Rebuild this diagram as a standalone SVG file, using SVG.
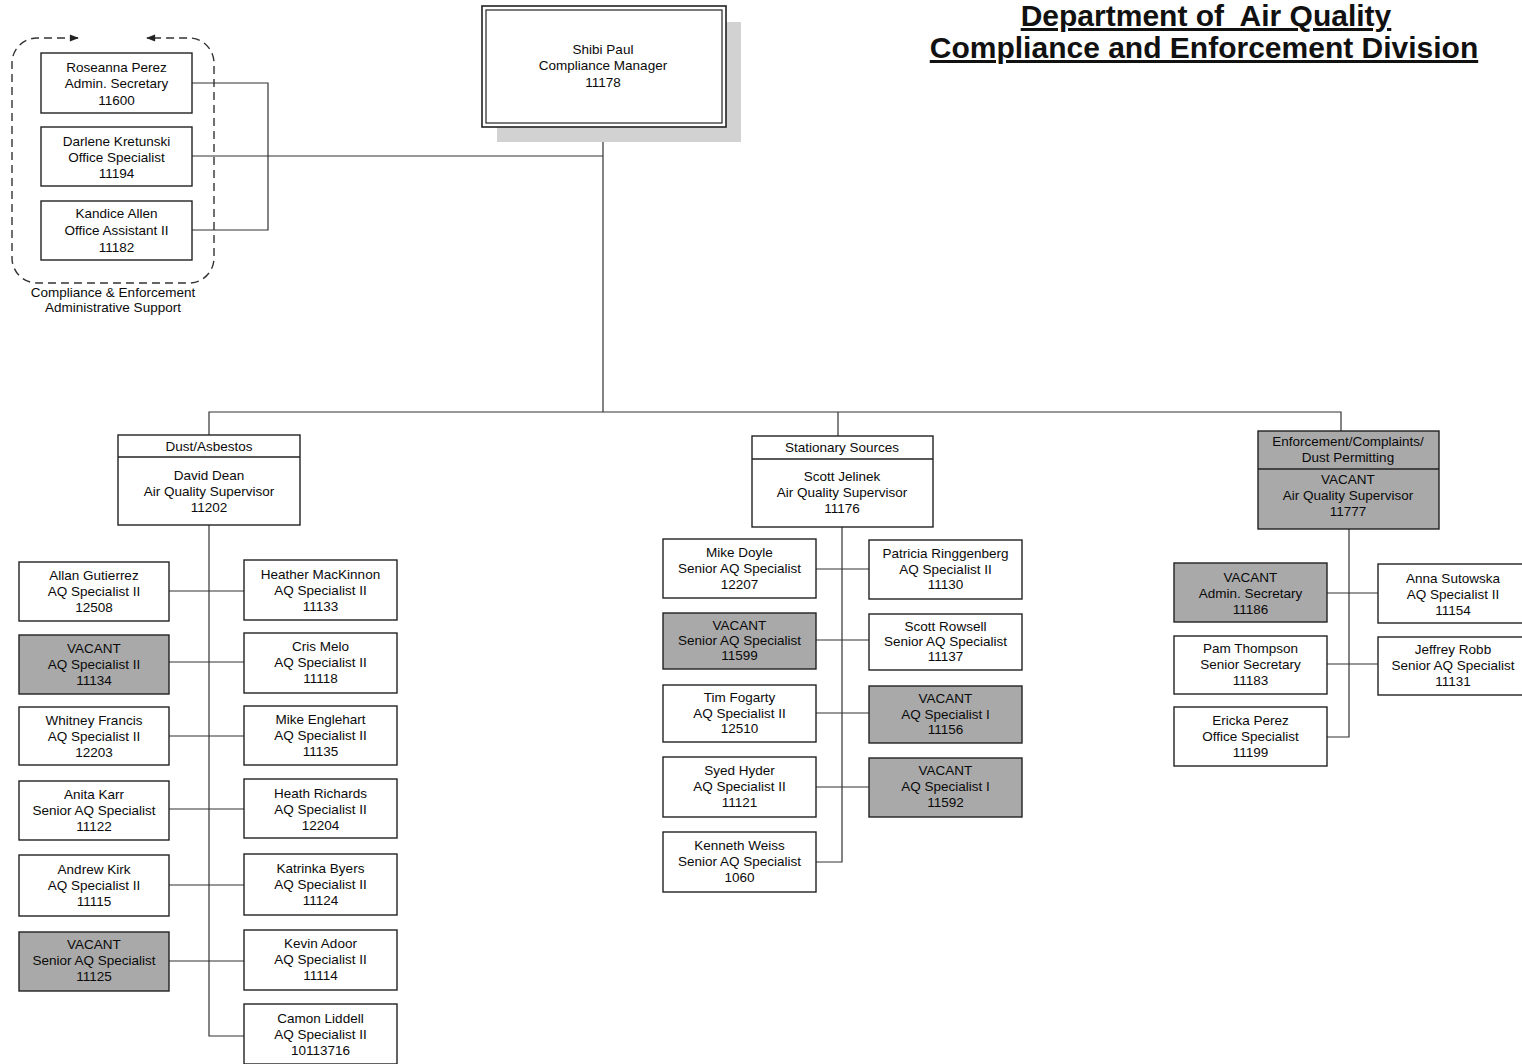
<svg xmlns="http://www.w3.org/2000/svg" width="1522" height="1064" viewBox="0 0 1522 1064">
<defs>
<style>
.box{fill:#fff;stroke:#222;stroke-width:1.4}
.vac{fill:#a9a9a9;stroke:#222;stroke-width:1.4}
.t{font-family:"Liberation Sans",Arial,sans-serif;font-size:13.5px;text-anchor:middle;fill:#0a0a0a}
.c{stroke:#333;stroke-width:1.2;fill:none}
.title{font-family:"Liberation Sans",Arial,sans-serif;font-size:30px;font-weight:bold;text-anchor:middle;fill:#111;text-decoration:underline;white-space:pre}
.dash{fill:none;stroke:#333;stroke-width:1.4;stroke-dasharray:8 5}
</style>
<marker id="ah" viewBox="0 0 10 10" refX="9" refY="5" markerWidth="10" markerHeight="9" markerUnits="userSpaceOnUse" orient="auto-start-reverse">
<path d="M0,1 L10,5 L0,9 Z" fill="#222"/>
</marker>
</defs>
<rect width="1522" height="1064" fill="#fff"/>

<text class="title" x="1206" y="26" xml:space="preserve">Department of  Air Quality</text>
<text class="title" x="1204" y="58">Compliance and Enforcement Division</text>

<g id="connectors">
<path class="c" d="M192,83 H268 V230 H192 M192,156 H603"/>
<path class="c" d="M603,127 V412 M209,435 V412 H1341 V431 M838,412 V436"/>
<path class="c" d="M209,525 V1036 H244 M169,591 H244 M169,662 H244 M169,736 H244 M169,809 H244 M169,885 H244 M169,961 H244"/>
<path class="c" d="M842,527 V862 H816 M816,569 H869 M816,640 H869 M816,713 H869 M816,787 H869"/>
<path class="c" d="M1349,529 V737 H1327 M1327,593 H1378 M1327,664 H1378"/>
</g>

<g id="admin-support">
<path class="dash" d="M78,38 H37 A25,25 0 0 0 12,63 V258 A25,25 0 0 0 37,283 H189 A25,25 0 0 0 214,258 V63 A25,25 0 0 0 189,38 H147" marker-start="url(#ah)" marker-end="url(#ah)"/>
<text class="t" x="113" y="296.5">Compliance &amp; Enforcement</text>
<text class="t" x="113" y="311.5">Administrative Support</text>
</g>

<g id="n-roseanna"><rect class="box" x="41" y="53" width="151" height="60"/><text class="t" x="116.5" y="71.5">Roseanna Perez<tspan x="116.5" dy="16">Admin. Secretary</tspan><tspan x="116.5" dy="17">11600</tspan></text></g>
<g id="n-darlene"><rect class="box" x="41" y="127" width="151" height="59"/><text class="t" x="116.5" y="145.5">Darlene Kretunski<tspan x="116.5" dy="16">Office Specialist</tspan><tspan x="116.5" dy="16">11194</tspan></text></g>
<g id="n-kandice"><rect class="box" x="41" y="201" width="151" height="59"/><text class="t" x="116.5" y="217.5">Kandice Allen<tspan x="116.5" dy="17">Office Assistant II</tspan><tspan x="116.5" dy="17">11182</tspan></text></g>

<g id="n-manager">
<rect x="497" y="22" width="244" height="120" fill="#d2d2d2"/>
<rect x="482" y="6" width="244" height="121" fill="#fff" stroke="#222" stroke-width="1.6"/>
<rect x="486" y="10" width="236" height="113" fill="none" stroke="#222" stroke-width="1.2"/>
<text class="t" x="603" y="53.5">Shibi Paul<tspan x="603" dy="16.5">Compliance Manager</tspan><tspan x="603" dy="16.5">11178</tspan></text>
</g>

<g id="n-dust">
<rect class="box" x="118" y="435" width="182" height="90"/>
<line x1="118" y1="457" x2="300" y2="457" stroke="#222" stroke-width="1.4"/>
<text class="t" x="209" y="450.5">Dust/Asbestos</text>
<text class="t" x="209" y="479.5">David Dean<tspan x="209" dy="16">Air Quality Supervisor</tspan><tspan x="209" dy="16">11202</tspan></text>
</g>

<g id="n-stationary">
<rect class="box" x="752" y="436" width="181" height="91"/>
<line x1="752" y1="459" x2="933" y2="459" stroke="#222" stroke-width="1.4"/>
<text class="t" x="842" y="451.5">Stationary Sources</text>
<text class="t" x="842" y="480.5">Scott Jelinek<tspan x="842" dy="16">Air Quality Supervisor</tspan><tspan x="842" dy="16">11176</tspan></text>
</g>

<g id="n-enforcement">
<rect class="vac" x="1258" y="431" width="181" height="98"/>
<line x1="1258" y1="469" x2="1439" y2="469" stroke="#222" stroke-width="1.4"/>
<text class="t" x="1348" y="445.5">Enforcement/Complaints/<tspan x="1348" dy="16">Dust Permitting</tspan></text>
<text class="t" x="1348" y="483.5">VACANT<tspan x="1348" dy="16">Air Quality Supervisor</tspan><tspan x="1348" dy="16">11777</tspan></text>
</g>

<g id="n-allan"><rect class="box" x="19" y="562" width="150" height="59"/><text class="t" x="94" y="580">Allan Gutierrez<tspan x="94" dy="16">AQ Specialist II</tspan><tspan x="94" dy="16">12508</tspan></text></g>
<g id="n-vac11134"><rect class="vac" x="19" y="635" width="150" height="59"/><text class="t" x="94" y="653">VACANT<tspan x="94" dy="16">AQ Specialist II</tspan><tspan x="94" dy="16">11134</tspan></text></g>
<g id="n-whitney"><rect class="box" x="19" y="707" width="150" height="58"/><text class="t" x="94" y="725">Whitney Francis<tspan x="94" dy="16">AQ Specialist II</tspan><tspan x="94" dy="16">12203</tspan></text></g>
<g id="n-anita"><rect class="box" x="19" y="781" width="150" height="59"/><text class="t" x="94" y="799">Anita Karr<tspan x="94" dy="16">Senior AQ Specialist</tspan><tspan x="94" dy="16">11122</tspan></text></g>
<g id="n-andrew"><rect class="box" x="19" y="855" width="150" height="61"/><text class="t" x="94" y="874">Andrew Kirk<tspan x="94" dy="16">AQ Specialist II</tspan><tspan x="94" dy="16">11115</tspan></text></g>
<g id="n-vac11125"><rect class="vac" x="19" y="932" width="150" height="59"/><text class="t" x="94" y="949">VACANT<tspan x="94" dy="16">Senior AQ Specialist</tspan><tspan x="94" dy="16">11125</tspan></text></g>

<g id="n-heather"><rect class="box" x="244" y="560" width="153" height="60"/><text class="t" x="320.5" y="579">Heather MacKinnon<tspan x="320.5" dy="16">AQ Specialist II</tspan><tspan x="320.5" dy="16">11133</tspan></text></g>
<g id="n-cris"><rect class="box" x="244" y="633" width="153" height="60"/><text class="t" x="320.5" y="650.5">Cris Melo<tspan x="320.5" dy="16">AQ Specialist II</tspan><tspan x="320.5" dy="16">11118</tspan></text></g>
<g id="n-mike-e"><rect class="box" x="244" y="706" width="153" height="59"/><text class="t" x="320.5" y="724">Mike Englehart<tspan x="320.5" dy="16">AQ Specialist II</tspan><tspan x="320.5" dy="16">11135</tspan></text></g>
<g id="n-heath"><rect class="box" x="244" y="779" width="153" height="59"/><text class="t" x="320.5" y="797.5">Heath Richards<tspan x="320.5" dy="16">AQ Specialist II</tspan><tspan x="320.5" dy="16">12204</tspan></text></g>
<g id="n-katrinka"><rect class="box" x="244" y="854" width="153" height="61"/><text class="t" x="320.5" y="873">Katrinka Byers<tspan x="320.5" dy="16">AQ Specialist II</tspan><tspan x="320.5" dy="16">11124</tspan></text></g>
<g id="n-kevin"><rect class="box" x="244" y="930" width="153" height="60"/><text class="t" x="320.5" y="948">Kevin Adoor<tspan x="320.5" dy="16">AQ Specialist II</tspan><tspan x="320.5" dy="16">11114</tspan></text></g>
<g id="n-camon"><rect class="box" x="244" y="1004" width="153" height="60"/><text class="t" x="320.5" y="1023">Camon Liddell<tspan x="320.5" dy="16">AQ Specialist II</tspan><tspan x="320.5" dy="16">10113716</tspan></text></g>

<g id="n-mike-d"><rect class="box" x="663" y="539" width="153" height="59"/><text class="t" x="739.5" y="557">Mike Doyle<tspan x="739.5" dy="16">Senior AQ Specialist</tspan><tspan x="739.5" dy="16">12207</tspan></text></g>
<g id="n-vac11599"><rect class="vac" x="663" y="613" width="153" height="56"/><text class="t" x="739.5" y="630">VACANT<tspan x="739.5" dy="15">Senior AQ Specialist</tspan><tspan x="739.5" dy="15">11599</tspan></text></g>
<g id="n-tim"><rect class="box" x="663" y="685" width="153" height="57"/><text class="t" x="739.5" y="702">Tim Fogarty<tspan x="739.5" dy="15.5">AQ Specialist II</tspan><tspan x="739.5" dy="15.5">12510</tspan></text></g>
<g id="n-syed"><rect class="box" x="663" y="757" width="153" height="60"/><text class="t" x="739.5" y="775">Syed Hyder<tspan x="739.5" dy="16">AQ Specialist II</tspan><tspan x="739.5" dy="15.5">11121</tspan></text></g>
<g id="n-kenneth"><rect class="box" x="663" y="832" width="153" height="60"/><text class="t" x="739.5" y="849.5">Kenneth Weiss<tspan x="739.5" dy="16">Senior AQ Specialist</tspan><tspan x="739.5" dy="16">1060</tspan></text></g>

<g id="n-patricia"><rect class="box" x="869" y="540" width="153" height="59"/><text class="t" x="945.5" y="557.5">Patricia Ringgenberg<tspan x="945.5" dy="16">AQ Specialist II</tspan><tspan x="945.5" dy="15.5">11130</tspan></text></g>
<g id="n-scott-r"><rect class="box" x="869" y="614" width="153" height="56"/><text class="t" x="945.5" y="631">Scott Rowsell<tspan x="945.5" dy="14.5">Senior AQ Specialist</tspan><tspan x="945.5" dy="15.5">11137</tspan></text></g>
<g id="n-vac11156"><rect class="vac" x="869" y="686" width="153" height="57"/><text class="t" x="945.5" y="703">VACANT<tspan x="945.5" dy="15.5">AQ Specialist I</tspan><tspan x="945.5" dy="15.5">11156</tspan></text></g>
<g id="n-vac11592"><rect class="vac" x="869" y="758" width="153" height="59"/><text class="t" x="945.5" y="775">VACANT<tspan x="945.5" dy="16">AQ Specialist I</tspan><tspan x="945.5" dy="15.5">11592</tspan></text></g>

<g id="n-vac11186"><rect class="vac" x="1174" y="563" width="153" height="59"/><text class="t" x="1250.5" y="581.5">VACANT<tspan x="1250.5" dy="16">Admin. Secretary</tspan><tspan x="1250.5" dy="16">11186</tspan></text></g>
<g id="n-pam"><rect class="box" x="1174" y="636" width="153" height="58"/><text class="t" x="1250.5" y="652.5">Pam Thompson<tspan x="1250.5" dy="16">Senior Secretary</tspan><tspan x="1250.5" dy="16">11183</tspan></text></g>
<g id="n-ericka"><rect class="box" x="1174" y="707" width="153" height="59"/><text class="t" x="1250.5" y="725">Ericka Perez<tspan x="1250.5" dy="16">Office Specialist</tspan><tspan x="1250.5" dy="16">11199</tspan></text></g>
<g id="n-anna"><rect class="box" x="1378" y="564" width="160" height="59"/><text class="t" x="1453" y="582.5">Anna Sutowska<tspan x="1453" dy="16">AQ Specialist II</tspan><tspan x="1453" dy="16">11154</tspan></text></g>
<g id="n-jeffrey"><rect class="box" x="1378" y="637" width="160" height="58"/><text class="t" x="1453" y="653.5">Jeffrey Robb<tspan x="1453" dy="16">Senior AQ Specialist</tspan><tspan x="1453" dy="16">11131</tspan></text></g>
</svg>
